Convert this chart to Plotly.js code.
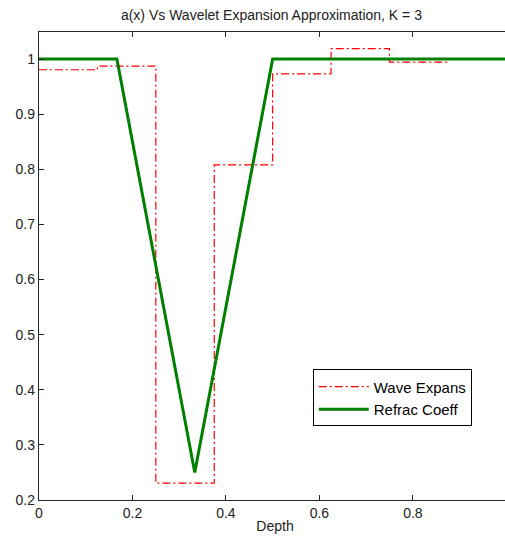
<!DOCTYPE html>
<html>
<head>
<meta charset="utf-8">
<script src="https://cdn.plot.ly/plotly-3.0.1.min.js"></script>
<style>html,body{margin:0;padding:0;overflow:hidden;background:#fff;}</style>
</head>
<body>
<div id="chart"></div>
<script>
// Wavelet expansion (step function, K = 3 -> 8 intervals)
var waveEdges = [0, 0.125, 0.25, 0.375, 0.5, 0.625, 0.75, 0.875, 1.0];
var waveLevels = [0.9805, 0.987, 0.2305, 0.808, 0.973, 1.019, 0.9945, 1.0];
// Refraction coefficient (piecewise linear)
var refracX = [0, 0.1667, 0.3333, 0.5, 1.01];
var refracY = [1.0, 1.0, 0.25, 1.0, 1.0];
var xTicks = [0, 0.2, 0.4, 0.6, 0.8];
var yTicks = [0.2, 0.3, 0.4, 0.5, 0.6, 0.7, 0.8, 0.9, 1];

var waveY = waveLevels.concat([waveLevels[waveLevels.length - 1]]);

var traces = [
  {x: waveEdges, y: waveY, name: 'Wave Expans', mode: 'lines',
   line: {color: '#ff0000', width: 1.2, dash: '8px,3px,2px,3px', shape: 'hv'}},
  {x: refracX, y: refracY, name: 'Refrac Coeff', mode: 'lines',
   line: {color: '#008000', width: 3}}
];

var fontFam = 'Liberation Sans, Arial, sans-serif';
var axisCommon = {
  showgrid: false, zeroline: false, showline: true, linecolor: '#262626', linewidth: 1.2,
  mirror: 'ticks', ticks: 'inside', ticklen: 5, tickcolor: '#262626',
  tickfont: {family: fontFam, size: 14, color: '#222'}
};

var layout = {
  width: 520, height: 540,
  margin: {l: 39, r: 9, t: 32, b: 40},
  paper_bgcolor: '#fff', plot_bgcolor: '#fff',
  title: {text: 'a(x) Vs Wavelet Expansion Approximation, K = 3',
          font: {family: fontFam, size: 14, color: '#222'},
          x: 0.522, xanchor: 'center', y: 0.972, yanchor: 'middle'},
  xaxis: Object.assign({}, axisCommon, {
    range: [0, 1.01], tickvals: xTicks, ticktext: xTicks.map(String),
    title: {text: 'Depth', standoff: 1, font: {family: fontFam, size: 14, color: '#222'}}
  }),
  yaxis: Object.assign({}, axisCommon, {
    range: [0.2, 1.049], tickvals: yTicks, ticktext: yTicks.map(String)
  }),
  showlegend: true,
  legend: {x: 0.58, y: 0.279, xanchor: 'left', yanchor: 'top',
           bgcolor: '#fff', bordercolor: '#000', borderwidth: 1,
           font: {family: fontFam, size: 15, color: '#000'},
           itemwidth: 50, tracegroupgap: 0}
};

Plotly.newPlot('chart', traces, layout, {displayModeBar: false, staticPlot: true});
</script>
</body>
</html>
